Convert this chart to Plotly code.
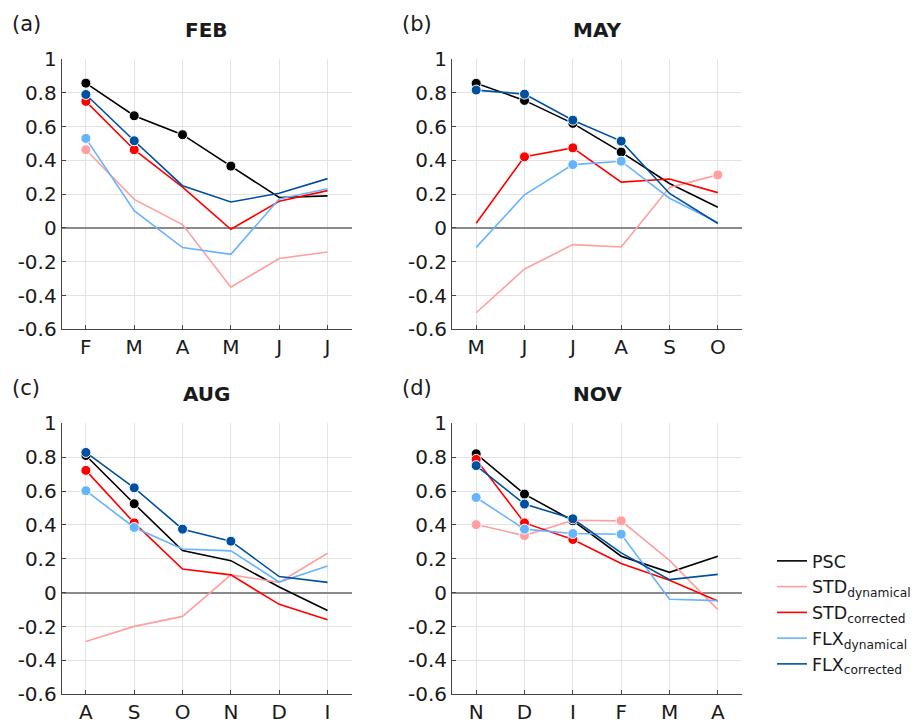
import plotly.graph_objects as go

# ---------------- data ----------------
series_names = ["PSC", "STD<sub>dynamical</sub>", "STD<sub>corrected</sub>",
                "FLX<sub>dynamical</sub>", "FLX<sub>corrected</sub>"]
series_colors = ["#000000", "#ff9f9f", "#ff0000", "#66b3ff", "#0050a0"]

panel_titles = ["FEB", "MAY", "AUG", "NOV"]
panel_letters = ["(a)", "(b)", "(c)", "(d)"]

months_feb = ["F", "M", "A", "M", "J", "J"]
months_may = ["M", "J", "J", "A", "S", "O"]
months_aug = ["A", "S", "O", "N", "D", "I"]
months_nov = ["N", "D", "I", "F", "M", "A"]

# FEB
psc_feb    = [0.857, 0.664, 0.552, 0.366, 0.180, 0.190]
stddyn_feb = [0.463, 0.169, 0.020, -0.351, -0.181, -0.142]
stdcor_feb = [0.749, 0.463, 0.242, -0.008, 0.158, 0.221]
flxdyn_feb = [0.530, 0.102, -0.116, -0.156, 0.171, 0.232]
flxcor_feb = [0.790, 0.516, 0.250, 0.154, 0.205, 0.292]
# MAY
psc_may    = [0.856, 0.755, 0.619, 0.449, 0.263, 0.123]
stddyn_may = [-0.502, -0.243, -0.099, -0.113, 0.239, 0.314]
stdcor_may = [0.028, 0.421, 0.474, 0.271, 0.290, 0.209]
flxdyn_may = [-0.115, 0.196, 0.375, 0.395, 0.176, 0.032]
flxcor_may = [0.816, 0.792, 0.638, 0.514, 0.204, 0.026]
# AUG
psc_aug    = [0.810, 0.525, 0.249, 0.189, 0.034, -0.105]
stddyn_aug = [-0.288, -0.199, -0.140, 0.105, 0.061, 0.233]
stdcor_aug = [0.722, 0.412, 0.140, 0.105, -0.069, -0.160]
flxdyn_aug = [0.602, 0.385, 0.258, 0.247, 0.063, 0.158]
flxcor_aug = [0.828, 0.619, 0.375, 0.304, 0.095, 0.061]
# NOV
psc_nov    = [0.820, 0.582, 0.425, 0.215, 0.120, 0.215]
stddyn_nov = [0.402, 0.337, 0.428, 0.424, 0.191, -0.100]
stdcor_nov = [0.787, 0.412, 0.314, 0.172, 0.073, -0.049]
flxdyn_nov = [0.562, 0.375, 0.349, 0.345, -0.039, -0.047]
flxcor_nov = [0.750, 0.523, 0.436, 0.235, 0.077, 0.108]

# points marked with a dot (1 = marked)
sig_psc_feb    = [1, 1, 1, 1, 0, 0]
sig_stddyn_feb = [1, 0, 0, 0, 0, 0]
sig_stdcor_feb = [1, 1, 0, 0, 0, 0]
sig_flxdyn_feb = [1, 0, 0, 0, 0, 0]
sig_flxcor_feb = [1, 1, 0, 0, 0, 0]

sig_psc_may    = [1, 1, 1, 1, 0, 0]
sig_stddyn_may = [0, 0, 0, 0, 0, 1]
sig_stdcor_may = [0, 1, 1, 0, 0, 0]
sig_flxdyn_may = [0, 0, 1, 1, 0, 0]
sig_flxcor_may = [1, 1, 1, 1, 0, 0]

sig_psc_aug    = [1, 1, 0, 0, 0, 0]
sig_stddyn_aug = [0, 0, 0, 0, 0, 0]
sig_stdcor_aug = [1, 1, 0, 0, 0, 0]
sig_flxdyn_aug = [1, 1, 0, 0, 0, 0]
sig_flxcor_aug = [1, 1, 1, 1, 0, 0]

sig_psc_nov    = [1, 1, 1, 0, 0, 0]
sig_stddyn_nov = [1, 1, 0, 1, 0, 0]
sig_stdcor_nov = [1, 1, 1, 0, 0, 0]
sig_flxdyn_nov = [1, 1, 1, 1, 0, 0]
sig_flxcor_nov = [1, 1, 1, 0, 0, 0]

y_tickvals = [-0.6, -0.4, -0.2, 0, 0.2, 0.4, 0.6, 0.8, 1]
y_ticktext = ["-0.6", "-0.4", "-0.2", "0", "0.2", "0.4", "0.6", "0.8", "1"]

panels = [
    (months_feb, [psc_feb, stddyn_feb, stdcor_feb, flxdyn_feb, flxcor_feb],
     [sig_psc_feb, sig_stddyn_feb, sig_stdcor_feb, sig_flxdyn_feb, sig_flxcor_feb]),
    (months_may, [psc_may, stddyn_may, stdcor_may, flxdyn_may, flxcor_may],
     [sig_psc_may, sig_stddyn_may, sig_stdcor_may, sig_flxdyn_may, sig_flxcor_may]),
    (months_aug, [psc_aug, stddyn_aug, stdcor_aug, flxdyn_aug, flxcor_aug],
     [sig_psc_aug, sig_stddyn_aug, sig_stdcor_aug, sig_flxdyn_aug, sig_flxcor_aug]),
    (months_nov, [psc_nov, stddyn_nov, stdcor_nov, flxdyn_nov, flxcor_nov],
     [sig_psc_nov, sig_stddyn_nov, sig_stdcor_nov, sig_flxdyn_nov, sig_flxcor_nov]),
]

# ---------------- layout geometry ----------------
W, H = 922, 721
OFF = 8  # page body margin
def px(x):
    return (x - OFF) / W
def py(y):
    return (H - (y - OFF)) / H

x_doms = [(px(61.7), px(351.7)), (px(452.0), px(742.0))]
y_doms = [(py(329.3), py(59.0)), (py(694.3), py(423.3))]

FONT = "DejaVu Sans"
fig = go.Figure()
layout = dict(
    width=W, height=H,
    margin=dict(l=0, r=0, t=0, b=0, autoexpand=False),
    paper_bgcolor="white", plot_bgcolor="white",
    font=dict(family=FONT, size=19, color="#1a1a1a"),
    showlegend=True,
    legend=dict(x=px(772), y=py(543), xanchor="left", yanchor="top",
                font=dict(family=FONT, size=17.5, color="#1a1a1a"),
                bgcolor="rgba(0,0,0,0)", itemwidth=30, tracegroupgap=0),
    annotations=[], shapes=[],
)

for p, (months, vals, sigs) in enumerate(panels):
    row, col = divmod(p, 2)
    ax = "" if p == 0 else str(p + 1)
    xname, yname = "x" + ax, "y" + ax
    xidx = list(range(1, len(months) + 1))
    for s in range(5):
        fig.add_trace(go.Scatter(
            x=xidx, y=vals[s], mode="lines", xaxis=xname, yaxis=yname,
            line=dict(color=series_colors[s], width=1.6),
            name=series_names[s], legendgroup=series_names[s],
            showlegend=(p == 0)))
        my = [v if f else None for v, f in zip(vals[s], sigs[s])]
        fig.add_trace(go.Scatter(
            x=xidx, y=my, mode="markers", xaxis=xname, yaxis=yname,
            marker=dict(color=series_colors[s], size=10,
                        line=dict(color="white", width=1)),
            legendgroup=series_names[s], showlegend=False, hoverinfo="skip"))
    layout["xaxis" + ax] = dict(
        domain=x_doms[col], range=[0.5, 6.5], anchor=yname,
        tickvals=xidx, ticktext=months, ticks="inside", ticklen=4,
        tickcolor="#444", showline=True, linecolor="#444", linewidth=1,
        showgrid=True, gridcolor="#e3e3e3", gridwidth=1, zeroline=False,
        tickfont=dict(family=FONT, size=20, color="#1a1a1a"),
        ticklabelstandoff=0, automargin=False, fixedrange=True)
    layout["yaxis" + ax] = dict(
        domain=y_doms[row], range=[-0.6, 1.0], anchor=xname,
        tickvals=y_tickvals, ticktext=y_ticktext, ticks="inside", ticklen=4,
        tickcolor="#444", showline=True, linecolor="#444", linewidth=1,
        showgrid=True, gridcolor="#e3e3e3", gridwidth=1,
        zeroline=True, zerolinecolor="#8a8a8a", zerolinewidth=1.5,
        tickfont=dict(family=FONT, size=20, color="#1a1a1a"),
        ticklabelstandoff=0, automargin=False, fixedrange=True)
    x0, x1 = x_doms[col]
    ytop_px = 59.0 if row == 0 else 423.3
    layout["annotations"].append(dict(
        text="<b>%s</b>" % panel_titles[p], xref="paper", yref="paper",
        x=(x0 + x1) / 2, y=py(ytop_px - 29), xanchor="center", yanchor="middle",
        showarrow=False, font=dict(family=FONT, size=20, color="#1a1a1a")))
    layout["annotations"].append(dict(
        text=panel_letters[p], xref="paper", yref="paper",
        x=x0 - 52 / W, y=py(ytop_px - 35), xanchor="left", yanchor="middle",
        showarrow=False, font=dict(family=FONT, size=21, color="#1a1a1a")))

fig.update_layout(**layout)
fig.write_html("out.html")
